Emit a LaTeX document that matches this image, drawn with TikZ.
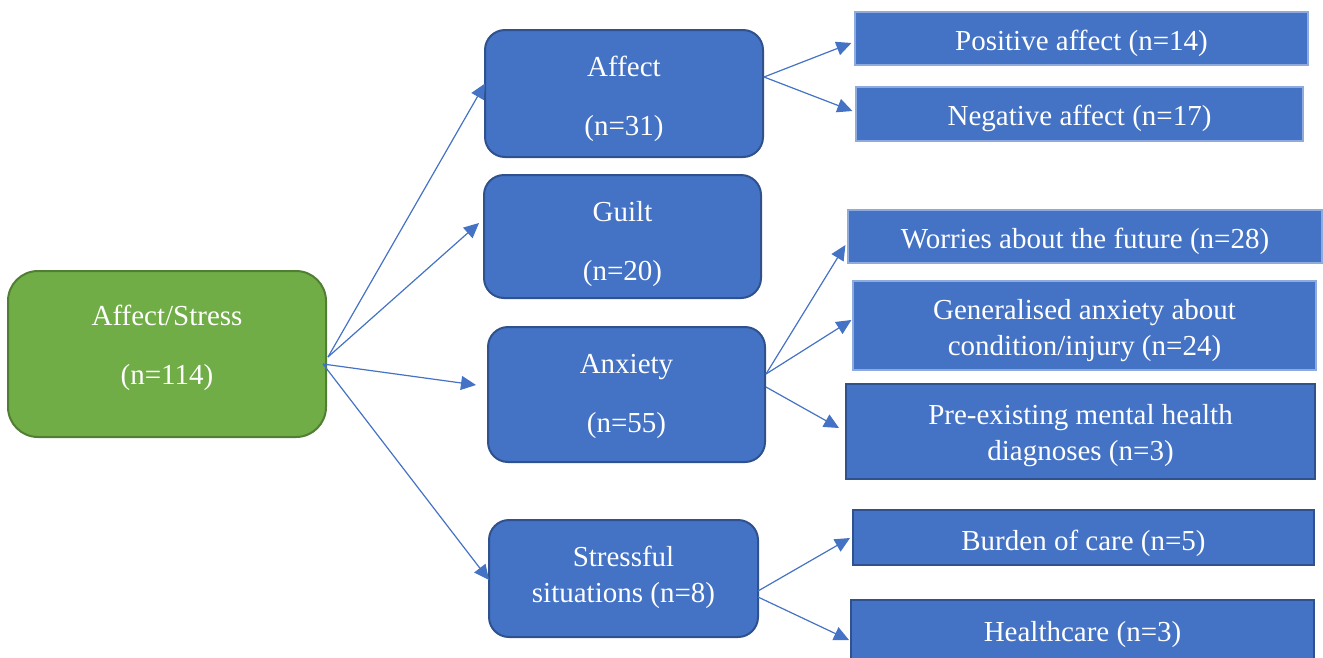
\documentclass[tikz,border=0pt]{standalone}
\usepackage{fontspec}
\setmainfont{Liberation Serif}
\usetikzlibrary{arrows.meta,calc}

\definecolor{boxblue}{HTML}{4472C4}
\definecolor{boxedge}{HTML}{2F528F}
\definecolor{lightedge}{HTML}{8FAADC}
\definecolor{rootgreen}{HTML}{70AD47}
\definecolor{rootedge}{HTML}{507E32}

\tikzset{
  lbl/.style={text=white, align=center, inner sep=0pt,
    font=\fontsize{29}{36}\selectfont},
  rootbox/.style={fill=rootgreen, draw=rootedge, line width=2pt,
    rounded corners=30pt, inner sep=0pt},
  midbox/.style={fill=boxblue, draw=boxedge, line width=2pt,
    rounded corners=20pt, inner sep=0pt},
  leafbox/.style={fill=boxblue, draw=lightedge, line width=1.2pt, inner sep=0pt},
  leafboxdark/.style={fill=boxblue, draw=boxedge, line width=2pt, inner sep=0pt},
  conn/.style={draw=boxblue, line width=1.2pt,
    -{Triangle[length=15pt,width=14pt]}}
}

\begin{document}
\begin{tikzpicture}[x=1pt,y=-1pt]
\useasboundingbox (0,0) rectangle (1323,657);

% root
\node[rootbox, minimum width=318pt, minimum height=166pt] (as) at (167,354) {};
\node[lbl] (asT) at (167,347.5) {Affect/Stress\\[23pt](n=114)};

% second level
\node[midbox, minimum width=278pt, minimum height=127pt] (affect) at (624,93.5) {};
\node[lbl] (affectT) at (624,99) {Affect\\[23pt](n=31)};
\node[midbox, minimum width=277pt, minimum height=123pt] (guilt) at (622.5,236.5) {};
\node[lbl] (guiltT) at (622.5,244.5) {Guilt\\[23pt](n=20)};
\node[midbox, minimum width=277pt, minimum height=135pt] (anxiety) at (626.5,394.5) {};
\node[lbl] (anxietyT) at (626.5,396.5) {Anxiety\\[23pt](n=55)};
\node[midbox, minimum width=269pt, minimum height=117pt] (stress) at (623.5,578.5) {};
\node[lbl] (stressT) at (623.5,577) {Stressful\\situations (n=8)};

% third level
\node[leafbox, minimum width=453pt, minimum height=53pt] (pos) at (1081.5,38.5) {};
\node[lbl] (posT) at (1081.5,43.5) {Positive affect (n=14)};
\node[leafbox, minimum width=447pt, minimum height=54pt] (neg) at (1079.5,114) {};
\node[lbl] (negT) at (1079.5,118.5) {Negative affect (n=17)};
\node[leafbox, minimum width=474pt, minimum height=53pt] (worr) at (1085,236.5) {};
\node[lbl] (worrT) at (1085,241.5) {Worries about the future (n=28)};
\node[leafbox, minimum width=463pt, minimum height=89pt] (gen) at (1084.5,325.5) {};
\node[lbl] (genT) at (1084.5,330.5) {Generalised anxiety about\\condition/injury (n=24)};
\node[leafboxdark, minimum width=469pt, minimum height=95pt] (pre) at (1080.5,431.5) {};
\node[lbl] (preT) at (1080.5,436) {Pre-existing mental health\\diagnoses (n=3)};
\node[leafboxdark, minimum width=461pt, minimum height=55pt] (burden) at (1083.5,537.5) {};
\node[lbl] (burdenT) at (1083.5,543.5) {Burden of care (n=5)};
\node[leafboxdark, minimum width=463pt, minimum height=60pt] (health) at (1082.5,630) {};
\node[lbl] (healthT) at (1082.5,634.5) {Healthcare (n=3)};

% root to second level
\draw[conn] ($(as.east)+(1,3)$) -- ($(affect.west)+(1,-10)$);
\draw[conn] ($(as.east)+(1,3)$) -- ($(guilt.west)+(-4,-13.5)$);
\draw[conn] ($(as.east)+(-4,10)$) -- ($(anxiety.west)+(-11,-9.5)$);
\draw[conn] ($(as.east)+(-4,10)$) -- ($(stress.west)+(1,1.5)$);

% affect branch
\draw[conn] ($(affect.east)+(0,-16.5)$) -- ($(pos.west)+(-3,4.5)$);
\draw[conn] ($(affect.east)+(0,-16.5)$) -- ($(neg.west)+(-3,-3)$);

% anxiety branch
\draw[conn] ($(anxiety.east)+(0,-20.5)$) -- ($(worr.west)+(-2,8.5)$);
\draw[conn] ($(anxiety.east)+(0,-20.5)$) -- ($(gen.west)+(-1,-5.5)$);
\draw[conn] ($(anxiety.east)+(0,-7.5)$) -- ($(pre.west)+(-6,-3.5)$);

% stressful situations branch
\draw[conn] ($(stress.east)+(-1,12.5)$) -- ($(burden.west)+(-2,0.5)$);
\draw[conn] ($(stress.east)+(-1,18.5)$) -- ($(health.west)+(-1,10)$);
\end{tikzpicture}
\end{document}
